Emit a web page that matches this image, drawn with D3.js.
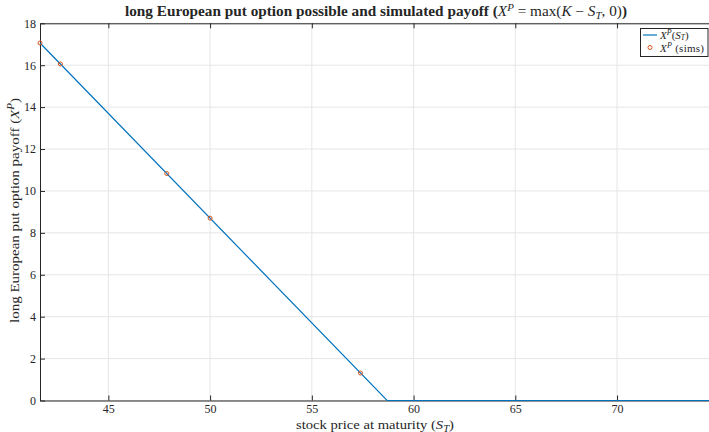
<!DOCTYPE html>
<html><head><meta charset="utf-8">
<script src="https://cdn.jsdelivr.net/npm/d3@7"></script>
<style>body{margin:0;background:#fff}svg{display:block}text{font-family:"Liberation Serif","DejaVu Serif",serif;fill:#262626}</style>
</head><body>
<script>
const linePrices = [41.64, 58.70, 74.52];
const linePayoffs = [17.06, 0, 0];
const simPrices = [41.64, 42.64, 47.87, 50.00, 57.39];
const simPayoffs = [17.06, 16.06, 10.83, 8.70, 1.31];
const xTicks = [45, 50, 55, 60, 65, 70];
const yTicks = [0, 2, 4, 6, 8, 10, 12, 14, 16, 18];

const W = 709, H = 432;
const m = {l: 40, r: 709, t: 23.3, b: 400.5};
const svg = d3.select("body").append("svg").attr("width", W).attr("height", H);
const x = d3.scaleLinear().domain([41.64, 74.52]).range([m.l, m.r]);
const y = d3.scaleLinear().domain([0, 18]).range([m.b, m.t]);

// grid
svg.append("g").selectAll("line").data(xTicks).join("line")
  .attr("x1", d => x(d)).attr("x2", d => x(d)).attr("y1", m.t).attr("y2", m.b)
  .attr("stroke", "#e6e6e6").attr("stroke-width", 1);
svg.append("g").selectAll("line").data(yTicks).join("line")
  .attr("x1", m.l).attr("x2", m.r).attr("y1", d => y(d)).attr("y2", d => y(d))
  .attr("stroke", "#e6e6e6").attr("stroke-width", 1);

// axes (ticks inward)
const ax = svg.append("g").attr("transform", `translate(0,${m.b})`)
  .call(d3.axisBottom(x).tickValues(xTicks).tickSizeInner(-5).tickSizeOuter(0).tickPadding(4));
const axTop = svg.append("g").attr("transform", `translate(0,${m.t})`)
  .call(d3.axisTop(x).tickValues(xTicks).tickSizeInner(-5).tickSizeOuter(0).tickFormat(""));
const ay = svg.append("g").attr("transform", `translate(${m.l},0)`)
  .call(d3.axisLeft(y).tickValues(yTicks).tickSizeInner(-5).tickSizeOuter(0).tickPadding(4));
[ax, axTop, ay].forEach(g => {
  g.attr("font-family", "'Liberation Serif',serif").attr("font-size", 12);
  g.selectAll(".domain").attr("stroke", "#262626").attr("stroke-width", 1);
  g.selectAll(".tick line").attr("stroke", "#262626");
  g.selectAll("text").attr("fill", "#262626");
});

// line
svg.append("path").datum(linePrices.map((p, i) => [p, linePayoffs[i]]))
  .attr("d", d3.line().x(d => x(d[0])).y(d => y(d[1])))
  .attr("fill", "none").attr("stroke", "#0072BD").attr("stroke-width", 1.2);

// sims
svg.append("g").selectAll("circle").data(simPrices.map((p, i) => [p, simPayoffs[i]])).join("circle")
  .attr("cx", d => x(d[0])).attr("cy", d => y(d[1])).attr("r", 2)
  .attr("fill", "none").attr("stroke", "#D95319").attr("stroke-width", 1);

// title
const title = svg.append("text").attr("x", 376).attr("y", 16).attr("text-anchor", "middle")
  .attr("textLength", 502).attr("lengthAdjust", "spacingAndGlyphs")
  .style("font-size", "14px");
title.append("tspan").attr("font-weight", "bold").text("long European put option possible and simulated payoff (");
title.append("tspan").attr("font-style", "italic").text("X");
title.append("tspan").attr("font-style", "italic").attr("dy", -5).style("font-size", "10px").text("P");
title.append("tspan").attr("dy", 5).text(" = max(");
title.append("tspan").attr("font-style", "italic").text("K");
title.append("tspan").text(" − ");
title.append("tspan").attr("font-style", "italic").text("S");
title.append("tspan").attr("font-style", "italic").attr("dy", 3).style("font-size", "10px").text("T");
title.append("tspan").attr("dy", -3).text(", 0)");
title.append("tspan").attr("font-weight", "bold").text(")");

// x label
const xl = svg.append("text").attr("x", 375).attr("y", 428.5).attr("text-anchor", "middle")
  .attr("textLength", 158).attr("lengthAdjust", "spacingAndGlyphs").style("font-size", "13px");
xl.append("tspan").text("stock price at maturity (");
xl.append("tspan").attr("font-style", "italic").text("S");
xl.append("tspan").attr("font-style", "italic").attr("dy", 3).style("font-size", "9.5px").text("T");
xl.append("tspan").attr("dy", -3).text(")");

// y label
const yl = svg.append("text").attr("transform", `translate(19,210.5) rotate(-90)`)
  .attr("text-anchor", "middle").attr("textLength", 225).attr("lengthAdjust", "spacingAndGlyphs")
  .style("font-size", "13px");
yl.append("tspan").text("long European put option payoff (");
yl.append("tspan").attr("font-style", "italic").text("X");
yl.append("tspan").attr("font-style", "italic").attr("dy", -5).style("font-size", "9.5px").text("P");
yl.append("tspan").attr("dy", 5).text(")");

// legend
const lg = svg.append("g");
lg.append("rect").attr("x", 640.5).attr("y", 28.5).attr("width", 67.5).attr("height", 28)
  .attr("fill", "#fff").attr("stroke", "#262626").attr("stroke-width", 1);
lg.append("line").attr("x1", 643).attr("x2", 657).attr("y1", 35).attr("y2", 35)
  .attr("stroke", "#0072BD").attr("stroke-width", 1.2);
lg.append("circle").attr("cx", 650).attr("cy", 47.5).attr("r", 2)
  .attr("fill", "none").attr("stroke", "#D95319").attr("stroke-width", 1);
const t1 = lg.append("text").attr("x", 660).attr("y", 38.5).style("font-size", "11px");
t1.append("tspan").attr("font-style", "italic").text("X");
t1.append("tspan").attr("font-style", "italic").attr("dy", -4).style("font-size", "8px").text("P");
t1.append("tspan").attr("dy", 4).text("(");
t1.append("tspan").attr("font-style", "italic").text("S");
t1.append("tspan").attr("font-style", "italic").attr("dy", 1.5).style("font-size", "7.5px").text("T");
t1.append("tspan").attr("dy", -1.5).text(")");
const t2 = lg.append("text").attr("x", 660).attr("y", 51.8).style("font-size", "11px")
  .attr("textLength", 44).attr("lengthAdjust", "spacing");
t2.append("tspan").attr("font-style", "italic").text("X");
t2.append("tspan").attr("font-style", "italic").attr("dy", -4).style("font-size", "8px").text("P");
t2.append("tspan").attr("dy", 4).text(" (sims)");
</script>
</body></html>
